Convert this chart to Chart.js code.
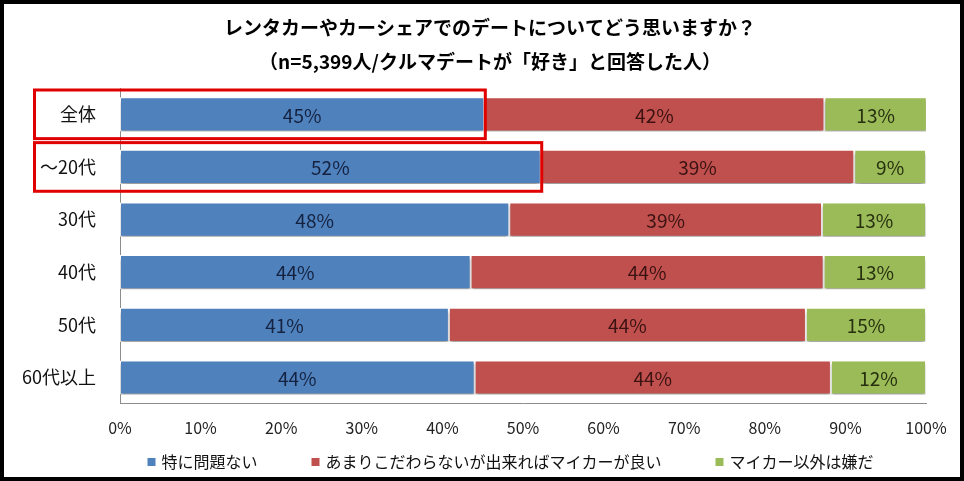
<!DOCTYPE html>
<html>
<head>
<meta charset="utf-8">
<script src="https://cdn.jsdelivr.net/npm/chart.js@4.4.1/dist/chart.umd.min.js"></script>
<style>
html,body{margin:0;padding:0;background:#fff;}
#wrap{width:964px;height:481px;position:relative;}
</style>
</head>
<body>
<div id="wrap"><canvas id="c" width="964" height="481"></canvas></div>
<script>
const titleLines = ["レンタカーやカーシェアでのデートについてどう思いますか？", "（n=5,399人/クルマデートが「好き」と回答した人）"];
const categories = ["全体", "～20代", "30代", "40代", "50代", "60代以上"];
const seriesNames = ["特に問題ない", "あまりこだわらないが出来ればマイカーが良い", "マイカー以外は嫌だ"];
const noProblem = [45.2, 52.2, 48.3, 43.5, 40.8, 44.0];
const preferOwnCar = [42.2, 38.9, 38.8, 43.8, 44.3, 44.2];
const ownCarOnly = [12.7, 8.9, 12.9, 12.7, 14.9, 11.8];
const xTicks = [0, 10, 20, 30, 40, 50, 60, 70, 80, 90, 100];
const highlighted = [0, 1];

const colors = ["#4F81BD", "#C0504D", "#9BBB59"];
const labelColors = ["#14223f", "#3a1212", "#26300f"];
const JP = "'Noto Sans CJK JP', 'Noto Sans', sans-serif";

const shadowPlugin = {
  id: 'shadow',
  beforeDatasetsDraw(chart) {
    const ctx = chart.ctx;
    ctx.save();
    ctx.shadowColor = 'rgba(0,0,0,0.38)';
    ctx.shadowBlur = 3;
    ctx.shadowOffsetY = 3;
  },
  afterDatasetsDraw(chart) {
    chart.ctx.restore();
  }
};

const labelPlugin = {
  id: 'labels',
  afterDatasetsDraw(chart) {
    const ctx = chart.ctx;
    ctx.save();
    ctx.font = "19px " + JP;
    ctx.textAlign = 'center';
    ctx.textBaseline = 'middle';
    chart.data.datasets.forEach((ds, di) => {
      const meta = chart.getDatasetMeta(di);
      meta.data.forEach((bar, i) => {
        const v = ds.data[i];
        ctx.fillStyle = labelColors[di];
        ctx.fillText(Math.round(v) + '%', (bar.x + bar.base) / 2, bar.y + 1);
      });
    });
    ctx.restore();
  }
};

const decoPlugin = {
  id: 'deco',
  afterDraw(chart) {
    const ctx = chart.ctx;
    const xs = chart.scales.x, ys = chart.scales.y;
    ctx.save();
    // title
    ctx.fillStyle = '#000';
    ctx.font = "bold 19px " + JP;
    ctx.textAlign = 'center';
    ctx.textBaseline = 'middle';
    ctx.fillText(titleLines[0], 490, 28);
    ctx.fillText(titleLines[1], 490, 62);
    // legend (manual, wide spacing as in reference)
    ctx.font = "16px " + JP;
    ctx.textAlign = 'left';
    const box = 8, boxGap = 6, itemGap = 54, ly = 462;
    const widths = seriesNames.map(n => box + boxGap + ctx.measureText(n).width);
    const total = widths.reduce((a, b) => a + b, 0) + itemGap * (widths.length - 1);
    let lx = 510.5 - total / 2;
    seriesNames.forEach((n, i) => {
      ctx.fillStyle = colors[i];
      ctx.fillRect(lx, ly - box / 2, box, box);
      ctx.fillStyle = '#111';
      ctx.fillText(n, lx + box + boxGap, ly);
      lx += widths[i] + itemGap;
    });
    // highlight boxes
    ctx.strokeStyle = '#E00000';
    ctx.lineWidth = 3;
    const half = (ys.getPixelForValue(1) - ys.getPixelForValue(0)) / 2;
    highlighted.forEach(i => {
      const cy = ys.getPixelForValue(i);
      const right = xs.getPixelForValue(noProblem[i]) + 1;
      ctx.strokeRect(34.5, cy - half + 2, right - 34.5, 2 * half - 4);
    });
    // outer border
    ctx.strokeStyle = '#000';
    ctx.lineWidth = 4;
    ctx.strokeRect(2, 2, 960, 477);
    ctx.restore();
  }
};

new Chart(document.getElementById('c'), {
  type: 'bar',
  data: {
    labels: categories,
    datasets: [
      { label: seriesNames[0], data: noProblem, backgroundColor: colors[0] },
      { label: seriesNames[1], data: preferOwnCar, backgroundColor: colors[1] },
      { label: seriesNames[2], data: ownCarOnly, backgroundColor: colors[2] }
    ].map(d => Object.assign(d, { borderColor: '#ffffff', borderWidth: 1, borderSkipped: false, categoryPercentage: 1, barPercentage: 0.65 }))
  },
  options: {
    indexAxis: 'y',
    responsive: false,
    animation: false,
    devicePixelRatio: 1,
    layout: { padding: { top: 88, left: 0, right: 38, bottom: 28 } },
    scales: {
      x: {
        stacked: true, min: 0, max: 100,
        afterBuildTicks(scale) { scale.ticks = xTicks.map(v => ({ value: v })); },
        ticks: { callback: v => v + '%', font: { size: 16, family: JP }, color: '#222', padding: 15, maxRotation: 0 },
        grid: { display: false, drawTicks: false },
        border: { display: true, color: '#8c8c8c', width: 1 }
      },
      y: {
        stacked: true,
        afterFit(scale) { scale.width = 120; },
        ticks: { font: { size: 18, family: JP }, color: '#111', padding: 24 },
        grid: { display: false, drawTicks: false },
        border: { display: true, color: '#8c8c8c', width: 1 }
      }
    },
    plugins: {
      legend: { display: false },
      tooltip: { enabled: false }
    }
  },
  plugins: [shadowPlugin, labelPlugin, decoPlugin]
});
</script>
</body>
</html>
